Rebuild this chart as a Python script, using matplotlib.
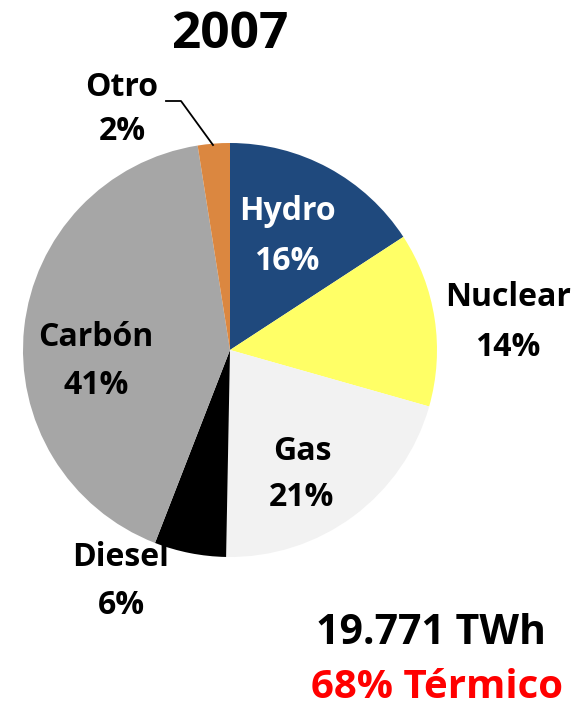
import matplotlib
matplotlib.use("Agg")
import matplotlib.pyplot as plt

# Data
categories = ["Hydro", "Nuclear", "Gas", "Diesel", "Carbón", "Otro"]
shares = [15.8, 13.6, 20.9, 5.6, 41.6, 2.5]
pct_labels = ["16%", "14%", "21%", "6%", "41%", "2%"]
colors = ["#1F497D", "#FFFF66", "#F2F2F2", "#000000", "#A6A6A6", "#DB8740"]
label_colors = ["white", "black", "black", "black", "black", "black"]
title = "2007"
total_text = "19.771 TWh"
thermal_text = "68% Térmico"

W, H = 577, 706
fig = plt.figure(figsize=(W / 100, H / 100), dpi=100)
ax = fig.add_axes([0, 0, 1, 1])

cx, cy, r = 230, H - 350, 207
ax.pie(shares, colors=colors, startangle=90, counterclock=False,
       center=(cx, cy), radius=r, wedgeprops=dict(linewidth=0),
       frame=True)
ax.set_xlim(0, W)
ax.set_ylim(0, H)
ax.set_aspect("equal")
ax.axis("off")

font = dict(family=["Open Sans", "DejaVu Sans"], weight="bold")
# label positions (pixel, from top)
label_pos = [(287, 212, 262), (508, 298, 347), (302, 451, 497),
             (121, 557, 605), (96, 337, 385), (122, 88, 132)]
for cat, pct, col, (x, y1, y2) in zip(categories, pct_labels, label_colors, label_pos):
    ax.text(x, H - y1, cat, ha="center", va="center", fontsize=23, color=col, **font)
    ax.text(x, H - y2, pct, ha="center", va="center", fontsize=23, color=col, **font)

# leader line for Otro
ax.plot([213, 181, 166], [H - 145, H - 101, H - 101], color="black", lw=1.3)

ax.text(230, H - 35, title, ha="center", va="center", fontsize=37, color="black", **font)
ax.text(431, H - 633, total_text, ha="center", va="center", fontsize=29.5, color="black", **font)
ax.text(437, H - 688, thermal_text, ha="center", va="center", fontsize=29, color="#FF0000", **font)

fig.savefig("out.png", dpi=100)
